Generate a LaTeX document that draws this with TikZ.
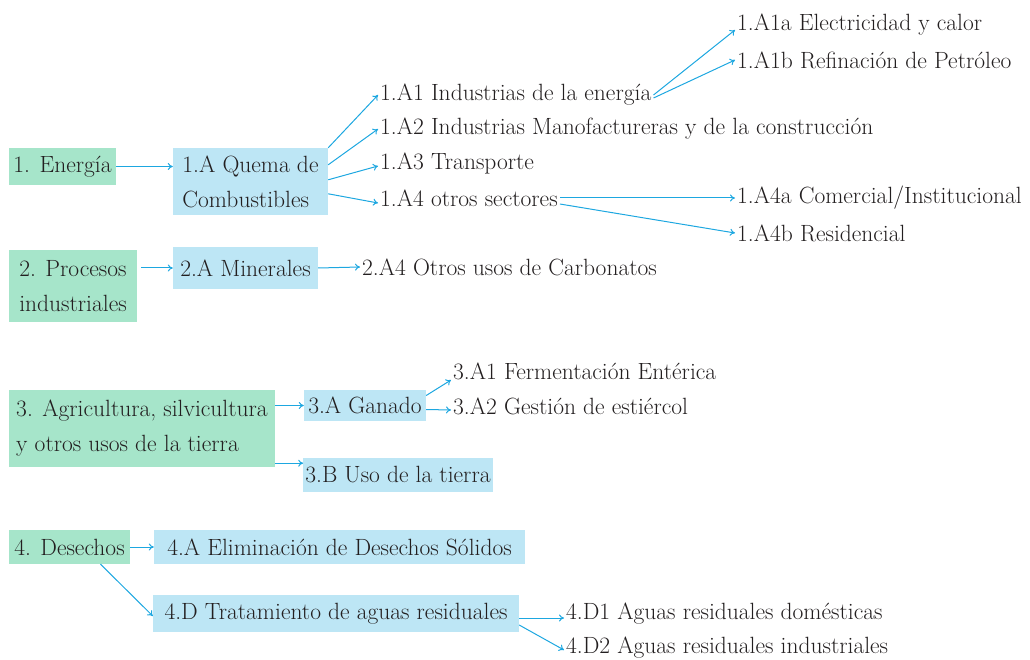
\documentclass[tikz,border=0pt]{standalone}
\usepackage{fontspec}
\usetikzlibrary{arrows.meta}
\definecolor{verde}{HTML}{A6E5CA}
\definecolor{celeste}{HTML}{BDE6F5}
\definecolor{linea}{HTML}{1DA7E0}
\definecolor{tinta}{HTML}{231F20}
\begin{document}
\begin{tikzpicture}[x=1pt, y=-1pt,
    every node/.style={font=\fontsize{23.5}{35}\selectfont, text=tinta},
    gcaja/.style={fill=verde, align=left, inner xsep=2pt, inner ysep=4pt},
    bcaja/.style={fill=celeste, align=left, inner xsep=2pt, inner ysep=4pt},
    etq/.style={anchor=west, inner sep=2pt},
    flecha/.style={draw=linea, line width=1pt, -{To[length=5pt,width=7pt]}}]
    \useasboundingbox (0,0) rectangle (1030,660);
    % categorias principales
    \node[gcaja, minimum width=107, minimum height=37] (ener) at (62.5,166.5) {1. Energía};
    \node[gcaja, minimum width=128, minimum height=72] (proc) at (73,286) {2. Procesos\\industriales};
    \node[gcaja, minimum width=266, minimum height=77] (agri) at (142,428.5) {3. Agricultura, silvicultura\\y otros usos de la tierra};
    \node[gcaja, minimum width=121, minimum height=34] (dese) at (69.5,547) {4. Desechos};
    % subcategorias
    \node[bcaja, minimum width=155, minimum height=67] (qa) at (250.5,181.5) {1.A Quema de\\Combustibles};
    \node[bcaja, minimum width=145, minimum height=42] (mine) at (245.5,268) {2.A Minerales};
    \node[bcaja, minimum width=122, minimum height=31] (gana) at (365,405.5) {3.A Ganado};
    \node[bcaja, minimum width=188, minimum height=34] (usot) at (398,475) {3.B Uso de la tierra};
    \node[bcaja, minimum width=371, minimum height=34] (elim) at (339.5,547) {4.A Eliminación de Desechos Sólidos};
    \node[bcaja, minimum width=366, minimum height=37] (trat) at (336,613.5) {4.D Tratamiento de aguas residuales};
    % fuentes
    \node[etq] (a1a) at (735,25)  {1.A1a Electricidad y calor};
    \node[etq] (a1b) at (735,60)  {1.A1b Refinación de Petróleo};
    \node[etq] (a1)  at (378,95)  {1.A1 Industrias de la energía};
    \node[etq] (a2)  at (378,129) {1.A2 Industrias Manofactureras y de la construcción};
    \node[etq] (a3)  at (378,163) {1.A3 Transporte};
    \node[etq] (a4)  at (378,198) {1.A4 otros sectores};
    \node[etq] (a4a) at (735,198) {1.A4a Comercial/Institucional};
    \node[etq] (a4b) at (735,233) {1.A4b Residencial};
    \node[etq] (carb) at (360,267) {2.A4 Otros usos de Carbonatos};
    \node[etq] (fer) at (451,371) {3.A1 Fermentación Entérica};
    \node[etq] (est) at (451,406) {3.A2 Gestión de estiércol};
    \node[etq] (d1)  at (564,614) {4.D1 Aguas residuales domésticas};
    \node[etq] (d2)  at (564,648) {4.D2 Aguas residuales industriales};
    % flechas
    \draw[flecha] (ener.east) -- (ener.east -| qa.west);
    \draw[flecha] (qa.north east) -- (a1.west);
    \draw[flecha] ([yshift=-17pt]qa.north east) -- (a2.west);
    \draw[flecha] ([yshift=-32pt]qa.north east) -- ([yshift=-3pt]a3.west);
    \draw[flecha] ([yshift=-46pt]qa.north east) -- ([yshift=-5pt]a4.west);
    \draw[flecha] (a1.east) -- ([yshift=-5pt]a1a.west);
    \draw[flecha] ([yshift=-3pt]a1.east) -- (a1b.west);
    \draw[flecha] (a4.east) -- (a4a.west);
    \draw[flecha] ([yshift=-6pt]a4.east) -- (a4b.west);
    \draw[flecha] ([xshift=4pt]proc.east |- mine.west) -- (mine.west);
    \draw[flecha] (mine.east) -- (carb.west);
    \draw[flecha] (agri.east |- gana.west) -- (gana.west);
    \draw[flecha] ([yshift=4pt]agri.south east) -- ([yshift=4pt]agri.south east -| usot.west);
    \draw[flecha] ([yshift=10pt]gana.east) -- ([yshift=-9pt]fer.west);
    \draw[flecha] ([yshift=-4pt]gana.east) -- ([yshift=-4pt]est.west);
    \draw[flecha] (dese.east) -- (elim.west);
    \draw[flecha] ([xshift=31pt]dese.south) -- ([yshift=-2.5pt]trat.west);
    \draw[flecha] ([yshift=-4.5pt]trat.east) -- ([yshift=-4pt]d1.west);
    \draw[flecha] ([yshift=-11.5pt]trat.east) -- ([yshift=-2pt]d2.west);
\end{tikzpicture}
\end{document}
